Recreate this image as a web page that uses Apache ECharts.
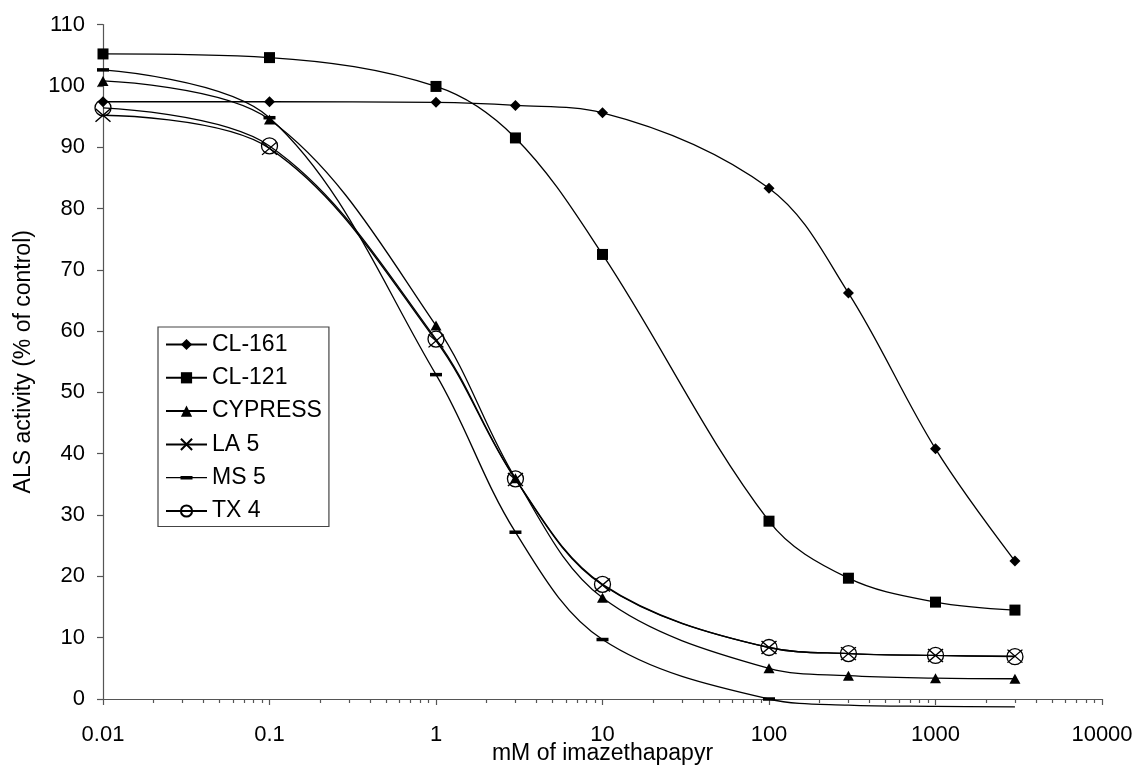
<!DOCTYPE html>
<html>
<head>
<meta charset="utf-8">
<script src="https://cdn.jsdelivr.net/npm/echarts@6/dist/echarts.min.js"></script>
<style>
  html, body { margin: 0; padding: 0; background: #fff; }
  #chart { width: 1136px; height: 772px; }
</style>
</head>
<body>
<div id="chart"></div>
<script>
// Imazethapyr dose (mM) and ALS activity (% of control) per biotype
const doses   = [0.01, 0.1, 1, 3, 10, 100, 300, 1000, 3000];
const cl161   = [97.4, 97.4, 97.3, 96.8, 95.6, 83.3, 66.2, 40.8, 22.5];
const cl121   = [105.2, 104.6, 99.9, 91.5, 72.5, 29.0, 19.7, 15.8, 14.5];
const cypress = [100.8, 94.5, 60.9, 36.0, 16.5, 5.0, 3.8, 3.4, 3.3];
const la5     = [95.2, 89.8, 58.4, 35.8, 18.6, 8.4, 7.4, 7.1, 7.0];
const ms5     = [102.6, 94.8, 52.9, 27.2, 9.7, 0.0, -1.0, -1.2, -1.3];
const tx4     = [96.4, 90.2, 58.7, 35.9, 18.7, 8.4, 7.4, 7.1, 6.9];

const xTickLabels = ['0.01', '0.1', '1', '10', '100', '1000', '10000'];
const yMin = 0, yMax = 110, yStep = 10;

const FONT = 'Liberation Sans, Arial, sans-serif';
const AXIS_GRAY = '#555';

const chart = echarts.init(document.getElementById('chart'), null, { renderer: 'canvas' });

function pairs(values) {
  // points below the axis floor keep the line but drop their marker
  return doses.map((d, i) => values[i] < yMin
    ? { value: [d, values[i]], symbol: 'none' }
    : [d, values[i]]);
}

function makeSeries(name, values, symbol, size, itemStyle) {
  return {
    name: name,
    type: 'line',
    data: pairs(values),
    smooth: 0.35,
    clip: false,
    symbol: symbol,
    symbolSize: size,
    showAllSymbol: true,
    lineStyle: { color: '#000', width: 1.3 },
    itemStyle: Object.assign({ color: '#000', opacity: 1 }, itemStyle || {}),
    emphasis: { disabled: true },
    animation: false
  };
}

const diamond = 'path://M0,-1L1,0L0,1L-1,0Z';
const cross = 'path://M0,0L10,10M10,0L0,10';
const msLegendIcon = 'path://M0,0M41,14M0,6.4L41,6.4L41,7.6L0,7.6ZM14.5,5.3L26.5,5.3L26.5,8.7L14.5,8.7Z';

const option = {
  backgroundColor: '#fff',
  animation: false,
  grid: { left: 103, right: 34, top: 24.5, bottom: 73, containLabel: false, outerBoundsMode: 'none' },
  xAxis: {
    type: 'log',
    logBase: 10,
    min: 0.01,
    max: 10000,
    name: 'mM of imazethapapyr',
    nameLocation: 'middle',
    nameGap: 43,
    nameMoveOverlap: false,
    nameTextStyle: { color: '#000', fontSize: 23, fontFamily: FONT },
    axisLine: { show: true, onZero: false, lineStyle: { color: AXIS_GRAY, width: 1.2 } },
    axisTick: { show: true, inside: false, length: 6, lineStyle: { color: AXIS_GRAY, width: 1.2 } },
    axisLabel: {
      color: '#000', fontSize: 22, fontFamily: FONT, margin: 25,
      formatter: function (v) {
        const s = String(+Number(v).toPrecision(6));
        return xTickLabels.indexOf(s) >= 0 ? s : '';
      }
    },
    splitLine: { show: false },
    minorTick: { show: false }
  },
  yAxis: {
    type: 'value',
    min: yMin,
    max: yMax,
    interval: yStep,
    name: 'ALS activity (% of control)',
    nameLocation: 'middle',
    nameGap: 68,
    nameMoveOverlap: false,
    nameTextStyle: { color: '#000', fontSize: 23, fontFamily: FONT },
    axisLine: { show: true, lineStyle: { color: AXIS_GRAY, width: 1.2 } },
    axisTick: { show: true, inside: false, length: 6, lineStyle: { color: AXIS_GRAY, width: 1.2 } },
    axisLabel: { color: '#000', fontSize: 22, fontFamily: FONT, margin: 18 },
    splitLine: { show: false }
  },
  legend: {
    orient: 'vertical',
    left: 158,
    top: 327,
    itemWidth: 41,
    itemHeight: 14,
    itemGap: 10.3,
    padding: [6, 7, 4, 7],
    borderColor: '#444',
    borderWidth: 1.2,
    backgroundColor: '#fff',
    selectedMode: false,
    textStyle: { color: '#000', fontSize: 23, fontFamily: FONT, lineHeight: 23 },
    data: [
      { name: 'CL-161' },
      { name: 'CL-121' },
      { name: 'CYPRESS' },
      { name: 'LA 5' },
      { name: 'MS 5', icon: msLegendIcon },
      { name: 'TX 4' }
    ]
  },
  series: [
    makeSeries('CL-161', cl161, diamond, [11, 11]),
    makeSeries('CL-121', cl121, 'rect', [11, 11]),
    makeSeries('CYPRESS', cypress, 'triangle', [11, 10]),
    makeSeries('LA 5', la5, cross, [15, 13], { color: 'rgba(0,0,0,0)', borderColor: '#000', borderWidth: 1.3 }),
    makeSeries('MS 5', ms5, 'rect', [12, 3.5]),
    makeSeries('TX 4', tx4, 'circle', [16, 16], { color: 'rgba(0,0,0,0)', borderColor: '#000', borderWidth: 1.3 })
  ]
};

chart.setOption(option);

// Minor log ticks (2..9 within each decade), placed through the axis scale
function drawMinorTicks() {
  const elements = [];
  const y0 = chart.convertToPixel({ yAxisIndex: 0 }, yMin);
  for (let decade = 0.01; decade < 10000 * 0.99; decade *= 10) {
    for (let k = 2; k <= 9; k++) {
      const x = chart.convertToPixel({ xAxisIndex: 0 }, decade * k);
      elements.push({
        type: 'line',
        silent: true,
        shape: { x1: Math.round(x) + 0.5, y1: y0, x2: Math.round(x) + 0.5, y2: y0 + 4 },
        style: { stroke: AXIS_GRAY, lineWidth: 1.2 }
      });
    }
  }
  chart.setOption({ graphic: { elements: elements } });
}
drawMinorTicks();
</script>
</body>
</html>
